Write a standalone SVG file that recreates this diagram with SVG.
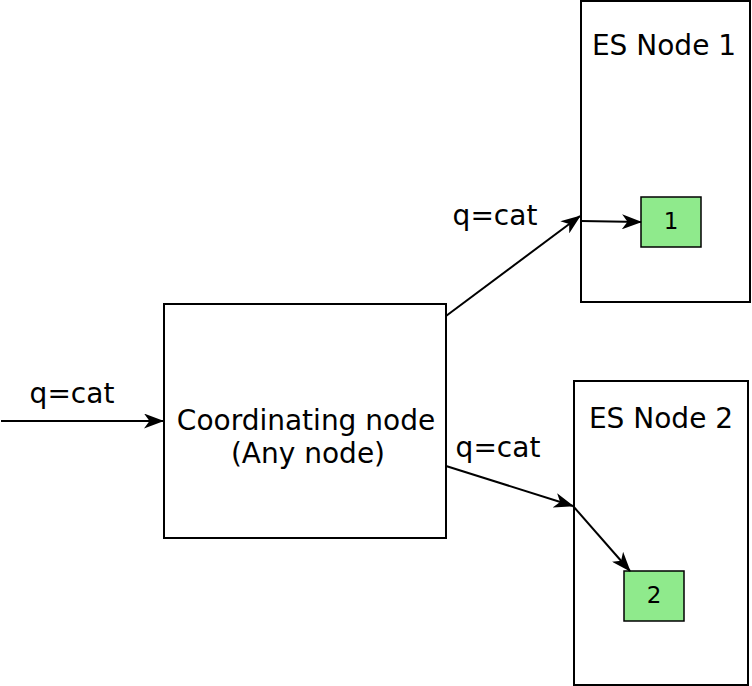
<svg xmlns="http://www.w3.org/2000/svg" width="752" height="686" viewBox="0 0 752 686">
<style>
.box{fill:#fff;stroke:#000;stroke-width:2}
.shard{fill:#8fea8c;stroke:#000;stroke-width:1.5}
.c{fill:none;stroke:#000;stroke-width:2}
</style>
<defs>
<marker id="a" viewBox="0 0 20 15" refX="19" refY="7.5" markerWidth="20" markerHeight="15" markerUnits="userSpaceOnUse" orient="auto">
<path d="M0,0 L20,7.5 L0,15 L5.5,7.5 Z" fill="#000"/>
</marker>
</defs>
<rect width="752" height="686" fill="#fff"/>
<g font-family="DejaVu Sans, sans-serif" text-anchor="middle" fill="#000">
<g id="es1">
<rect class="box" x="581" y="1" width="169" height="301"/>
<text x="664" y="55" font-size="28" style="font-size:28px">ES Node 1</text>
</g>
<g id="es2">
<rect class="box" x="574" y="381" width="174" height="304"/>
<text x="661" y="428" font-size="28" style="font-size:28px">ES Node 2</text>
</g>
<g id="coord">
<rect class="box" x="164" y="304" width="282" height="234"/>
<text x="306" y="430" font-size="28" style="font-size:28px">Coordinating node</text>
<text x="308" y="463" font-size="28" style="font-size:28px">(Any node)</text>
</g>
<g id="shard1">
<rect class="shard" x="641" y="197" width="60" height="50"/>
<text x="671" y="229" font-size="23" style="font-size:23px">1</text>
</g>
<g id="shard2">
<rect class="shard" x="624" y="571" width="60" height="50"/>
<text x="654" y="603" font-size="23" style="font-size:23px">2</text>
</g>
<g id="connectors">
<path class="c" d="M1,421 L163,421" marker-end="url(#a)"/>
<path class="c" d="M446,316 L580,216" marker-end="url(#a)"/>
<path class="c" d="M581,221 L641,222" marker-end="url(#a)"/>
<path class="c" d="M446,466 L573,506" marker-end="url(#a)"/>
<path class="c" d="M573,506 L630,571" marker-end="url(#a)"/>
<text x="72" y="403" font-size="28" style="font-size:28px">q=cat</text>
<text x="495" y="225" font-size="28" style="font-size:28px">q=cat</text>
<text x="498" y="457" font-size="28" style="font-size:28px">q=cat</text>
</g>
</g>
</svg>
